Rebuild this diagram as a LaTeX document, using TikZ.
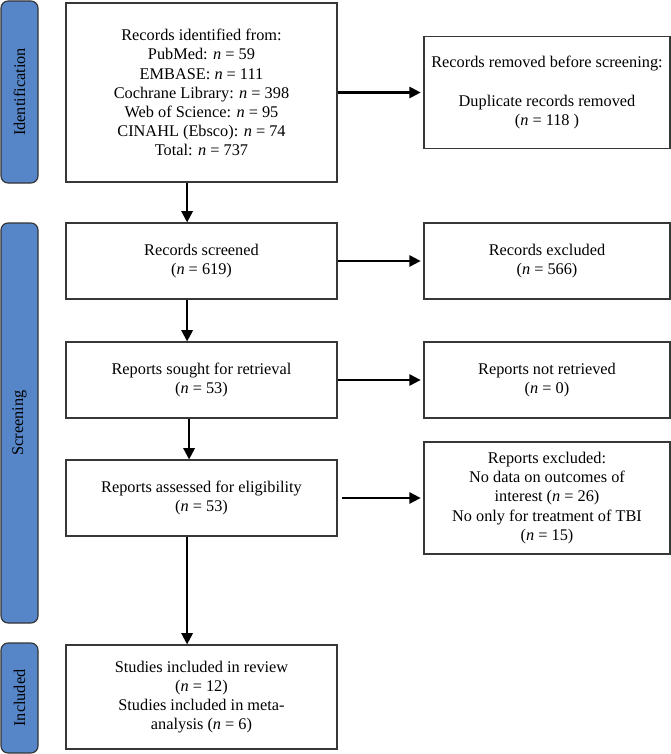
\documentclass[tikz,border=0pt]{standalone}
\usepackage{fontspec}
\setmainfont{Liberation Serif}
\usetikzlibrary{arrows.meta}
\definecolor{barblue}{RGB}{86,134,200}
\definecolor{edgegray}{RGB}{55,55,55}

\begin{document}
\begin{tikzpicture}[node distance=4cm,
	box/.style={draw=edgegray,line width=0.8pt,align=center,inner sep=2pt,minimum width=6.775cm,minimum height=1.9cm,font=\fontsize{11.6}{13.6}\selectfont},
	outbox/.style={box,minimum width=6.15cm},
	phase/.style={draw=black!80,line width=0.8pt,fill=barblue,rounded corners=5pt,rotate=90,minimum height=0.925cm,font=\fontsize{11.6}{13.6}\selectfont},
	arr/.style={line width=1.5pt,-{Triangle[length=8pt,width=8pt]}}]
			\useasboundingbox (0,0) rectangle (16.775,-18.85);

			\node (ident) [box,minimum height=4.475cm] at (5.0375,-2.3125) {Records identified from:\\ PubMed: \textit{n} = 59\\ EMBASE: \textit{n} = 111\\ Cochrane Library: \textit{n} = 398\\ Web of Science: \textit{n} = 95\\ CINAHL (Ebsco): \textit{n} = 74\\ Total: \textit{n} = 737};
			\node (screened) [box,node distance=4.2125cm,below of=ident] {Records screened\\ (\textit{n} = 619)};
			\node (sought) [box,node distance=2.975cm,below of=screened] {Reports sought for retrieval\\ (\textit{n} = 53)};
			\node (assessed) [box,node distance=2.95cm,below of=sought] {Reports assessed for eligibility\\ (\textit{n} = 53)};
			\node (included) [box,minimum height=2.6cm,node distance=4.975cm,below of=assessed] {Studies included in review\\ (\textit{n} = 12)\\ Studies included in meta-\\ analysis (\textit{n} = 6)};

			\node (removed) [outbox,minimum height=2.8cm,node distance=8.6375cm,right of=ident] {Records removed before screening:\\[13.6pt] Duplicate records removed\\ (\textit{n} = 118 )};
			\node (excluded) [outbox,node distance=8.6375cm,right of=screened] {Records excluded\\ (\textit{n} = 566)};
			\node (notretr) [outbox,node distance=8.6375cm,right of=sought] {Reports not retrieved\\ (\textit{n} = 0)};
			\node (repexcl) [outbox,minimum height=2.8cm,node distance=8.6375cm,right of=assessed] {Reports excluded:\\ No data on outcomes of\\ interest (\textit{n} = 26)\\ No only for treatment of TBI\\ (\textit{n} = 15)};

			\node (idbar) [phase,minimum width=4.55cm] at (0.4875,-2.3) {Identification};
			\node (scrbar) [phase,minimum width=10cm] at (0.4875,-10.575) {Screening};
			\node (incbar) [phase,minimum width=2.75cm] at (0.4875,-17.45) {Included};

			\draw [arr] ([xshift=-0.36cm]ident.south) -- ([xshift=-0.36cm]screened.north);
			\draw [arr] ([xshift=-0.36cm]screened.south) -- ([xshift=-0.36cm]sought.north);
			\draw [arr] ([xshift=-0.31cm]sought.south) -- ([xshift=-0.31cm]assessed.north);
			\draw [arr] ([xshift=-0.36cm]assessed.south) -- ([xshift=-0.36cm]included.north);

			\draw [arr,shorten >=2pt] (ident.east) -- (ident.east -| removed.west);
			\draw [arr,shorten >=2pt] (screened.east) -- (screened.east -| excluded.west);
			\draw [arr,shorten >=2pt] (sought.east) -- (sought.east -| notretr.west);
			\draw [arr,shorten <=3pt,shorten >=2pt] (assessed.east) -- (assessed.east -| repexcl.west);

		\end{tikzpicture}
\end{document}
